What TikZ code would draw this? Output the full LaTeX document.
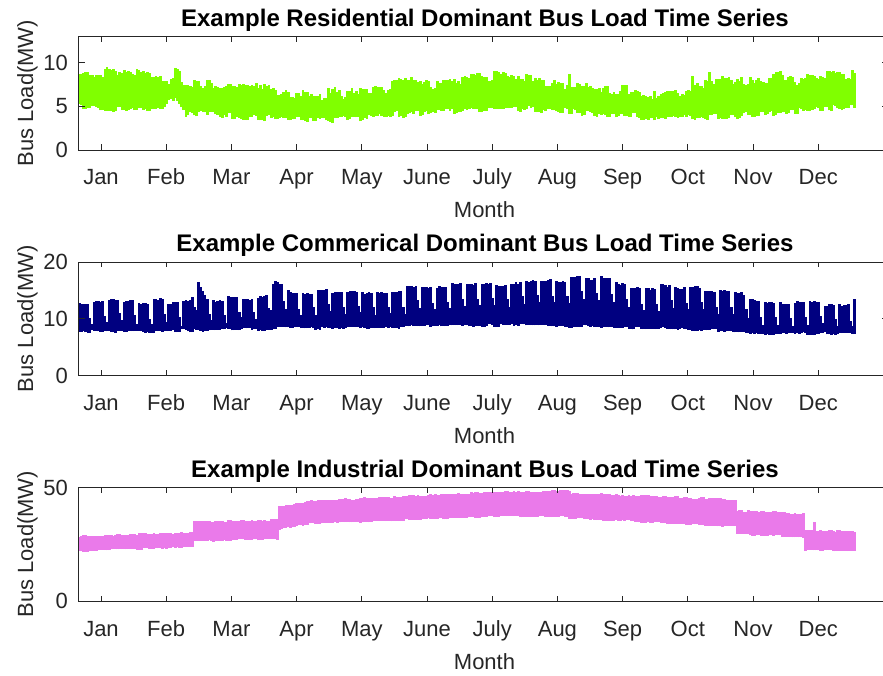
\documentclass[tikz,border=0pt]{standalone}
\usepackage{fontspec}
\setmainfont{Liberation Sans}
\usetikzlibrary{positioning}

\definecolor{axgray}{RGB}{38,38,38}
\definecolor{resgreen}{RGB}{128,255,0}
\definecolor{comblue}{RGB}{0,0,128}
\definecolor{indpink}{RGB}{234,122,234}

\tikzset{
  axbox/.style={draw=axgray, line width=0.9pt},
  ticklab/.style={text=axgray, inner sep=0pt, font=\fontsize{22}{26}\selectfont},
  plottitle/.style={inner sep=0pt, font=\bfseries\fontsize{24}{28}\selectfont},
  load/.style={line width=2.8pt},
}
% random value held for a few days: #1 macro, #2 day, #3 period
\newcommand\holdrnd[3]{%
  \pgfmathtruncatemacro\hrem{mod(#2,#3)}%
  \ifnum\hrem=0 \pgfmathsetmacro\htmp{rnd}\global\let#1\htmp\fi}
\gdef\blkhi{0.5}\gdef\blklo{0.5}

\begin{document}
\begin{tikzpicture}[x=1pt,y=1pt]
        \useasboundingbox (0,0) rectangle (883,675);
        \pgfmathsetseed{11}
        % residential series
        \begin{scope}[shift={(79.4,525)}, x=2.13pt, y=8.73pt]
          \foreach \da/\db/\la/\lb/\ha/\hb in {0/15/4.5/4.3/9.8/9.8, 15/30/4.3/4.2/9.8/9.5,
              30/40/4.2/4.2/9.5/8.8, 40/45/4.2/5.8/8.8/9.8, 45/50/5.8/3.8/9.8/8.6,
              50/60/3.8/3.8/8.6/8.4, 60/75/3.8/3.3/8.4/8.2, 75/90/3.3/3.2/8.2/7.6,
              90/105/3.2/3.2/7.6/7.3, 105/120/3.2/3.0/7.3/7.2, 120/135/3.0/3.3/7.2/7.8,
              135/150/3.3/3.6/7.8/8.4, 150/165/3.6/4.0/8.4/8.4, 165/180/4.0/4.0/8.4/8.8,
              180/195/4.0/4.2/8.8/9.4, 195/210/4.2/4.2/9.4/9.0, 210/225/4.2/4.0/9.0/8.5,
              225/240/4.0/3.8/8.5/8.2, 240/255/3.8/3.6/8.2/7.9, 255/270/3.6/3.2/7.9/7.2,
              270/285/3.2/3.3/7.2/7.4, 285/300/3.3/3.4/7.4/8.9, 300/315/3.4/3.5/8.9/8.8,
              315/330/3.5/3.8/8.8/9.2, 330/345/3.8/4.2/9.2/9.0, 345/364/4.2/4.5/9.0/9.6}{
            \foreach \d in {\da,...,\db}{
              \holdrnd{\blkhi}{\d}{3}\holdrnd{\blklo}{\d}{2}
              \pgfmathsetmacro\lo{\la+(\lb-\la)*(\d-\da)/(\db-\da)+0.7*\blklo+0.2*rnd}
              \pgfmathsetmacro\hi{\ha+(\hb-\ha)*(\d-\da)/(\db-\da)-1.2*\blkhi-0.5*rnd}
              \draw[load, resgreen] (\d,\lo) -- (\d,\hi);}}
          \foreach \d/\hi in {288/8.5, 296/8.9, 186/8.6, 230/8.7}{
            \draw[load, resgreen] (\d,5) -- (\d,\hi);}
        \end{scope}
        % commercial series, weekly pattern
        \begin{scope}[shift={(79.4,299.5)}, x=2.13pt, y=5.675pt]
          \foreach \da/\db/\la/\lb/\ha/\hb in {0/30/7.3/7.3/13.5/13.8, 30/52/7.3/7.5/13.8/14.0,
              52/56/7.5/7.5/14.0/17.0, 56/60/7.5/7.5/17.0/14.0, 60/75/7.5/7.8/14.0/14.5,
              75/88/7.8/7.8/14.5/15.0, 88/92/7.8/8.0/15.0/17.5, 92/100/8.0/8.0/17.5/15.5,
              100/120/8.0/8.0/15.5/15.5, 120/150/8.0/8.2/15.5/16.0, 150/180/8.2/8.5/16.0/16.5,
              180/200/8.5/8.5/16.5/17.0, 200/215/8.5/8.5/17.0/17.8, 215/245/8.5/8.2/17.8/17.8,
              245/260/8.2/8.0/17.8/16.5, 260/290/8.0/7.8/16.5/16.0, 290/310/7.8/7.5/16.0/15.5,
              310/320/7.5/7.0/15.5/14.0, 320/345/7.0/7.0/14.0/13.5, 345/364/7.0/7.2/13.5/13.5}{
            \foreach \d in {\da,...,\db}{
              \holdrnd{\blkhi}{\d}{7}\holdrnd{\blklo}{\d}{3}
              \pgfmathsetmacro\lo{\la+(\lb-\la)*(\d-\da)/(\db-\da)+0.5*\blklo+0.2*rnd}
              \pgfmathsetmacro\hi{\ha+(\hb-\ha)*(\d-\da)/(\db-\da)-(mod(\d,7)==5)*2.6-(mod(\d,7)==6)*3.8-1.0*\blkhi-0.4*rnd}
              \draw[load, comblue] (\d,\lo) -- (\d,\hi);}}
        \end{scope}
        % industrial series
        \begin{scope}[shift={(79.4,74)}, x=2.13pt, y=2.27pt]
          \foreach \da/\db/\la/\lb/\ha/\hb in {0/53/21.3/23.3/29.2/30.7, 54/93/25.8/26.8/35.6/36.2,
              94/110/31.0/33.5/42.3/44.7, 110/200/33.5/36.8/44.7/48.7, 200/230/36.8/36.8/48.7/49.2,
              230/308/35.8/32.3/48.2/45.2, 309/340/28.8/27.8/40.2/39.2, 341/364/21.8/21.8/31.7/31.2}{
            \foreach \d in {\da,...,\db}{
              \holdrnd{\blkhi}{\d}{2}\holdrnd{\blklo}{\d}{3}
              \pgfmathsetmacro\lo{\la+(\lb-\la)*(\d-\da)/(\db-\da)+0.8*\blklo+0.2*rnd}
              \pgfmathsetmacro\hi{\ha+(\hb-\ha)*(\d-\da)/(\db-\da)-0.8*\blkhi-0.2*rnd}
              \draw[load, indpink] (\d,\lo) -- (\d,\hi);}}
          \draw[load, indpink] (345,25) -- (345,35);
        \end{scope}
        % axes, month ticks and labels
        \foreach \pb/\ttl [count=\p] in {525/Residential, 299.5/Commerical, 74/Industrial}{
          \draw[axbox] (78,\pb) rectangle (889,\pb+113.5);
          \foreach \m [count=\i from 0] in {Jan,Feb,Mar,Apr,May,June,July,Aug,Sep,Oct,Nov,Dec}{
            \draw[axbox] (101+65.2*\i,\pb) -- ++(0,5.5);
            \draw[axbox] (101+65.2*\i,\pb+113.5) -- ++(0,-5.5);
            \node[ticklab, anchor=base] (mon-\p-\i) at (101+65.2*\i,\pb-35) {\m};}
          \node[ticklab, anchor=base] (xlab-\p) at (484.5,\pb-68) {Month};
          \node[ticklab, rotate=90, anchor=base] (ylab-\p) at (33,\pb+56.75) {Bus Load(MW)};
          \node[plottitle, anchor=base] (title-\p) at (485,\pb+123.5) {Example \ttl\ Dominant Bus Load Time Series};}
        % value ticks
        \foreach \v in {0,5,10}{
          \draw[axbox] (78,525+\v*8.73) -- ++(7,0);
          \draw[axbox] (889,525+\v*8.73) -- ++(-7,0);
          \node[ticklab, anchor=east] (ytk-1-\v) at (68,525+\v*8.73) {\v};}
        \foreach \v in {0,10,20}{
          \draw[axbox] (78,299.5+\v*5.675) -- ++(7,0);
          \draw[axbox] (889,299.5+\v*5.675) -- ++(-7,0);
          \node[ticklab, anchor=east] (ytk-2-\v) at (68,299.5+\v*5.675) {\v};}
        \foreach \v in {0,50}{
          \draw[axbox] (78,74+\v*2.27) -- ++(7,0);
          \draw[axbox] (889,74+\v*2.27) -- ++(-7,0);
          \node[ticklab, anchor=east] (ytk-3-\v) at (68,74+\v*2.27) {\v};}
      \end{tikzpicture}
\end{document}
